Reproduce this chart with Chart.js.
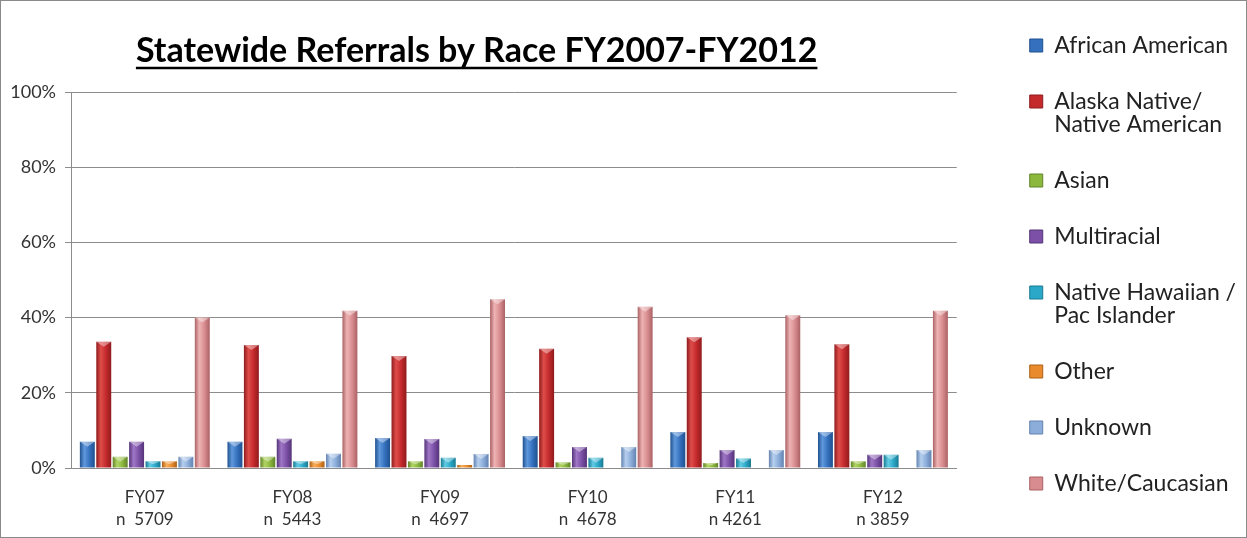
<!DOCTYPE html>
<html lang="en">
<head>
  <meta charset="UTF-8" />
  <title>Statewide Referrals by Race FY2007-FY2012</title>
  <script src="https://cdn.jsdelivr.net/npm/chart.js@4.4.1/dist/chart.umd.min.js"></script>
  <style>
    * { box-sizing: border-box; margin: 0; padding: 0; }
    body { background: #fff; }
    .frame {
      width: 1247px;
      height: 538px;
      border: 1px solid #8a8a8a;
      position: relative;
    }
  </style>
</head>
<body>
  <div class="frame">
    <canvas id="raceChart"></canvas>
  </div>

  <script>
    const chartTitle = 'Statewide Referrals by Race FY2007-FY2012';

    // fiscal years, two-line tick labels (year + referral count)
    const years = [
      ['FY07', 'n  5709'],
      ['FY08', 'n  5443'],
      ['FY09', 'n  4697'],
      ['FY10', 'n  4678'],
      ['FY11', 'n 4261'],
      ['FY12', 'n 3859']
    ];

    const raceNames = [
      'African American',
      'Alaska Native/\nNative American',
      'Asian',
      'Multiracial',
      'Native Hawaiian /\nPac Islander',
      'Other',
      'Unknown',
      'White/Caucasian'
    ];

    // percent of referrals per year
    const africanAmerican = [7, 7, 8, 8.5, 9.6, 9.6];
    const alaskaNative    = [33.6, 32.7, 29.8, 31.7, 34.8, 32.9];
    const asian           = [3, 3, 1.8, 1.5, 1.3, 1.8];
    const multiracial     = [7, 7.8, 7.7, 5.6, 4.8, 3.5];
    const nativeHawaiian  = [1.8, 1.8, 2.7, 2.7, 2.5, 3.5];
    const other           = [1.8, 1.8, 0.8, 0, 0, 0];
    const unknown         = [3, 3.8, 3.7, 5.6, 4.8, 4.8];
    const white           = [40, 41.8, 44.9, 42.9, 40.6, 41.8];

    const yTicks = [0, 20, 40, 60, 80, 100];

    const seriesValues = [africanAmerican, alaskaNative, asian, multiracial,
                          nativeHawaiian, other, unknown, white];

    // [base, highlight, shadow]
    const palette = [
      ['#3470bd', '#5f98dc', '#20518f'],
      ['#c42a2c', '#de4d4a', '#8f1b1d'],
      ['#8cb83e', '#b0d464', '#62842a'],
      ['#7b50a6', '#9f77c6', '#553479'],
      ['#2ba8c8', '#62cbe3', '#187a93'],
      ['#e98b2d', '#f8ae5c', '#ad6016'],
      ['#8cadda', '#b6cfee', '#6283b0'],
      ['#d88c8f', '#eeb3b4', '#ab6265']
    ];

    const datasets = raceNames.map((name, i) => ({
      label: name,
      data: seriesValues[i],
      backgroundColor: palette[i][0],
      borderWidth: 0,
      categoryPercentage: 0.89,
      barPercentage: 0.91
    }));

    // cylinder shading across each bar + light top cap
    const barShade = {
      id: 'barShade',
      beforeDatasetsDraw(chart) {
        const ctx = chart.ctx;
        chart.data.datasets.forEach((ds, i) => {
          const c = palette[i];
          chart.getDatasetMeta(i).data.forEach(bar => {
            const half = bar.width / 2;
            const g = ctx.createLinearGradient(bar.x - half, 0, bar.x + half, 0);
            g.addColorStop(0, c[2]);
            g.addColorStop(0.3, c[1]);
            g.addColorStop(0.65, c[0]);
            g.addColorStop(1, c[2]);
            bar.options = Object.assign({}, bar.options, { backgroundColor: g });
          });
        });
      },
      afterDatasetsDraw(chart) {
        const ctx = chart.ctx;
        chart.data.datasets.forEach((ds, i) => {
          chart.getDatasetMeta(i).data.forEach(bar => {
            const h = bar.base - bar.y;
            if (h < 3) return;
            const half = bar.width / 2;
            const capH = Math.min(5, h / 2);
            ctx.save();
            ctx.fillStyle = 'rgba(255,255,255,0.4)';
            ctx.beginPath();
            ctx.moveTo(bar.x - half, bar.y);
            ctx.lineTo(bar.x + half, bar.y);
            ctx.lineTo(bar.x, bar.y + capH);
            ctx.closePath();
            ctx.fill();
            ctx.restore();
          });
        });
      }
    };

    // underlined heading above the plot
    const heading = {
      id: 'heading',
      afterDraw(chart) {
        const ctx = chart.ctx;
        const area = chart.chartArea;
        const cx = area.left + area.width * 0.458;
        const y = 50;
        ctx.save();
        ctx.font = 'bold 34px Lato';
        ctx.fillStyle = '#000';
        ctx.textAlign = 'center';
        ctx.textBaseline = 'middle';
        ctx.fillText(chartTitle, cx, y);
        const w = ctx.measureText(chartTitle).width;
        ctx.strokeStyle = '#000';
        ctx.lineWidth = 2.5;
        ctx.beginPath();
        ctx.moveTo(cx - w / 2, y + 17);
        ctx.lineTo(cx + w / 2, y + 17);
        ctx.stroke();
        ctx.restore();
      }
    };

    // hidden strips used only for spacing around the plot
    const spacer = (axis, position, size) => ({
      axis: axis,
      position: position,
      display: false,
      afterFit(scale) {
        if (scale.isHorizontal()) scale.height = size; else scale.width = size;
      }
    });

    new Chart(document.getElementById('raceChart'), {
      type: 'bar',
      data: { labels: years, datasets: datasets },
      plugins: [barShade, heading],
      options: {
        responsive: true,
        maintainAspectRatio: false,
        animation: false,
        layout: { padding: { left: 8, right: 0, top: 0, bottom: 0 } },
        plugins: {
          title: { display: false },
          legend: {
            position: 'right',
            align: 'start',
            labels: {
              color: '#222',
              font: { family: 'Lato', size: 23, lineHeight: 1.0 },
              boxWidth: 13,
              boxHeight: 13,
              padding: 33,
              generateLabels(chart) {
                const items = Chart.defaults.plugins.legend.labels.generateLabels(chart);
                return items.map((it, i) => {
                  const lines = it.text.split('\n');
                  it.text = lines.length > 1 ? lines : lines[0];
                  it.fillStyle = palette[i][0];
                  it.strokeStyle = palette[i][2];
                  it.lineWidth = 1;
                  return it;
                });
              }
            }
          },
          tooltip: { enabled: false }
        },
        scales: {
          x: {
            grid: { display: false, drawTicks: false },
            border: { color: '#8c8c8c' },
            ticks: {
              color: '#333',
              font: { family: 'Lato', size: 17, lineHeight: 1.3 },
              padding: 18,
              maxRotation: 0
            },
            afterFit(scale) { scale.height = 69; }
          },
          y: {
            min: 0,
            max: 100,
            afterBuildTicks(scale) {
              scale.ticks = yTicks.map(v => ({ value: v }));
            },
            grid: { color: '#8c8c8c', tickLength: 6 },
            border: { color: '#8c8c8c' },
            ticks: {
              color: '#333',
              font: { family: 'Lato', size: 18 },
              padding: 9,
              callback: v => v + '%'
            },
            afterFit(scale) { scale.width = 62; }
          },
          headSpace: spacer('x', 'top', 91),
          legendGap: spacer('y', 'right', 40)
        }
      }
    });
  </script>
</body>
</html>
